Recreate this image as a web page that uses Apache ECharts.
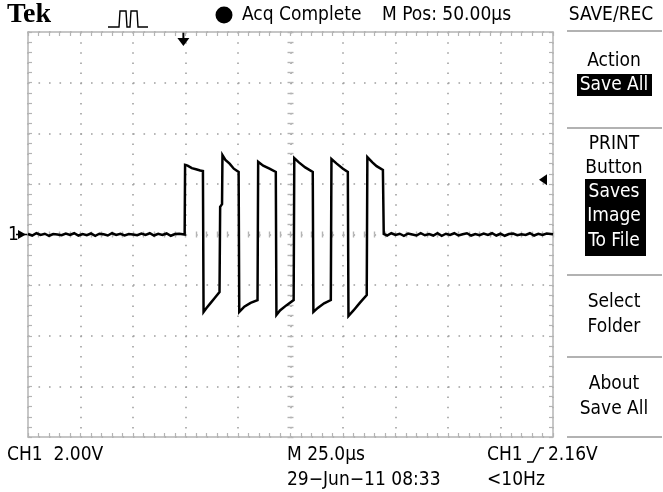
<!DOCTYPE html>
<html><head><meta charset="utf-8">
<script src="https://cdn.jsdelivr.net/npm/echarts@6/dist/echarts.min.js"></script>
<style>html,body{margin:0;padding:0;background:#fff}#c{width:663px;height:492px}</style>
</head><body><div id="c"></div>
<script>
// ---- data (time in µs, voltage in V) ----
const timeRange = [0, 250];      // 10 div x 25.0 µs
const voltRange = [-8, 8];       // 8 div x 2.00 V
const triggerTime = 74;          // trigger position marker (µs)
const triggerLevel = 2.16;       // V
const traceTime = [0,2,4,6,8,10,12,14,16,18,20,22,24,26,28,30,32,34,36,38,40,42,44,46,48,50,52,54,56,58,60,62,64,66,68,70,72,74.6,
  74.8,76,78,80,82,83.3,83.6,85,87,89,91.2,91.5,92.4,92.6,94,96,98,100.3,100.6,103,106,109.3,
  109.6,112,115,118,118.3,120,123,126.5,126.8,129,132,135.6,135.9,138,141,144.2,144.5,147,150,152.3,
  152.6,155,158,161.3,161.6,164,166,169.0,169.4,171,173,175,177,179,181,183,185,187,189,191,193,195,197,199,201,203,205,207,209,
  211,213,215,217,219,221,223,225,227,229,231,233,235,237,239,241,243,245,247,250];
const traceVolt = [0.02,-0.04,0.05,-0.02,0.03,-0.05,0.02,0.0,-0.03,0.04,-0.02,0.05,-0.04,0.02,-0.03,0.04,-0.05,0.03,0.01,-0.04,0.05,-0.02,0.03,-0.04,0.02,0.0,-0.03,0.04,-0.02,0.05,-0.04,0.03,-0.02,0.04,-0.05,0.02,0.03,0.0,
  2.75,2.72,2.62,2.58,2.53,2.51,-3.06,-2.9,-2.7,-2.5,-2.27,1.09,1.2,3.14,2.95,2.8,2.6,2.47,-3.06,-2.85,-2.7,-2.59,
  2.87,2.72,2.6,2.47,-3.18,-3.0,-2.8,-2.59,3.02,2.85,2.65,2.47,-3.06,-2.9,-2.72,-2.59,2.98,2.8,2.6,2.47,
  -3.22,-3.0,-2.7,-2.39,3.06,2.85,2.7,2.55,0.02,-0.04,0.05,-0.02,0.03,-0.05,0.04,0.0,-0.04,0.05,-0.03,0.02,-0.04,0.05,
  -0.05,0.03,-0.02,0.05,-0.04,0.01,0.05,-0.04,0.02,-0.03,0.04,-0.02,0.05,-0.04,0.03,-0.05,0.02,0.04,-0.03,0.01,-0.02,0.05,-0.04,0.03,
  -0.02,0.04,0.01];
const headerTexts = ['Tek', 'Acq Complete', 'M Pos: 50.00\u00b5s', 'SAVE/REC'];
const footerTexts = ['CH1  2.00V', 'M 25.0\u00b5s', 'CH1', '2.16V', '29\u2212Jun\u221211 08:33', '<10Hz'];
const menuPlain = ['Action', 'PRINT', 'Button', 'Select', 'Folder', 'About', 'Save All'];
const menuInverted = ['Save All', 'Saves', 'Image', 'To File'];

const chart = echarts.init(document.getElementById('c'), null, {renderer: 'canvas'});
const GRAY = '#b4b4b4';
const FONT = '"Liberation Sans Narrow", "DejaVu Sans Condensed", "Liberation Sans", sans-serif';
const FS = '19px ';

function xAx(extra) {
  return Object.assign({
    type: 'value', min: timeRange[0], max: timeRange[1], interval: 25,
    axisLabel: {show: false},
    axisLine: {show: true, onZero: false, lineStyle: {color: GRAY, width: 1.5}},
    axisTick: {show: true, inside: true, length: 4, lineStyle: {color: GRAY, width: 1.2}},
    minorTick: {show: true, splitNumber: 5, length: 4, lineStyle: {color: GRAY, width: 1.2}},
    splitLine: {show: false}
  }, extra);
}
function yAx(extra) {
  return Object.assign({
    type: 'value', min: voltRange[0], max: voltRange[1], interval: 2,
    axisLabel: {show: false},
    axisLine: {show: true, onZero: false, lineStyle: {color: GRAY, width: 1.5}},
    axisTick: {show: true, inside: true, length: 4, lineStyle: {color: GRAY, width: 1.2}},
    minorTick: {show: true, splitNumber: 5, length: 4, lineStyle: {color: GRAY, width: 1.2}},
    splitLine: {show: false}
  }, extra);
}
const hide = {show: true, onZero: false, lineStyle: {color: 'rgba(0,0,0,0)'}};
const cTick = (inside) => ({show: true, inside: inside, length: 3, lineStyle: {color: GRAY, width: 1.4}});
const cMinor = {show: true, splitNumber: 5, length: 3, lineStyle: {color: GRAY, width: 1.4}};

const option = {
  animation: false,
  grid: {left: 28, top: 32, width: 525, height: 405, containLabel: false},
  xAxis: [
    xAx({position: 'bottom', splitLine: {show: true, lineStyle: {color: '#a0a0a0', width: 1.6, type: [1.6, 8.525], dashOffset: 0}}}),
    xAx({position: 'top'}),
    xAx({position: 'bottom', offset: -202.5, axisLine: hide, axisTick: cTick(true), minorTick: cMinor}),
    xAx({position: 'bottom', offset: -202.5, axisLine: hide, axisTick: cTick(false), minorTick: cMinor})
  ],
  yAxis: [
    yAx({position: 'left', splitLine: {show: true, lineStyle: {color: '#a0a0a0', width: 1.6, type: [1.6, 8.9], dashOffset: 0}}}),
    yAx({position: 'right'}),
    yAx({position: 'left', offset: -262.5, axisLine: hide, axisTick: cTick(true), minorTick: cMinor}),
    yAx({position: 'left', offset: -262.5, axisLine: hide, axisTick: cTick(false), minorTick: cMinor})
  ],
  series: [{
    type: 'line', xAxisIndex: 0, yAxisIndex: 0, showSymbol: false, silent: true,
    lineStyle: {color: '#000', width: 2.5, join: 'miter'}, z: 10,
    data: traceTime.map((t, i) => [t, traceVolt[i]])
  }]
};
chart.setOption(option);

// ---- annotations (markers derived from data via the axes) ----
const pTrig = chart.convertToPixel({xAxisIndex: 0, yAxisIndex: 0}, [triggerTime, voltRange[1]]);
const pLevel = chart.convertToPixel({xAxisIndex: 0, yAxisIndex: 0}, [timeRange[1], triggerLevel]);
const pGnd = chart.convertToPixel({xAxisIndex: 0, yAxisIndex: 0}, [timeRange[0], 0]);

const txt = (s, x, y, o) => Object.assign({type: 'text', x: x, y: y, style: Object.assign({text: s, fill: '#000', font: FS + FONT, align: 'left', verticalAlign: 'middle'}, o || {})});
const els = [];
// header
els.push(txt(headerTexts[0], 7, 15, {font: 'bold 28px "Liberation Serif", serif'}));
els.push({type: 'polyline', shape: {points: [[108,27],[119,27],[120,11],[126,11],[127,27],[130,27],[131,11],[137,11],[138,27],[148,27]]}, style: {stroke: '#000', fill: null, lineWidth: 1.4}});
els.push({type: 'circle', shape: {cx: 224, cy: 15, r: 8.5}, style: {fill: '#000'}});
els.push(txt(headerTexts[1], 242, 15));
els.push(txt(headerTexts[2], 382, 15));
els.push(txt(headerTexts[3], 611, 15, {align: 'center'}));
// right menu separators
[31, 128, 275, 357, 437].forEach(y => els.push({type: 'line', shape: {x1: 567, y1: y, x2: 662, y2: y}, style: {stroke: '#999', lineWidth: 1.5}}));
// menu plain
const plainY = [61, 144, 168, 302, 327, 384, 409];
menuPlain.forEach((s, i) => els.push(txt(s, 614, plainY[i], {align: 'center'})));
// inverted boxes
els.push({type: 'rect', shape: {x: 577, y: 74, width: 75, height: 22}, style: {fill: '#000'}});
els.push({type: 'rect', shape: {x: 585, y: 179, width: 61, height: 77}, style: {fill: '#000'}});
const invY = [85, 192, 216, 241];
menuInverted.forEach((s, i) => els.push(txt(s, 614, invY[i], {align: 'center', fill: '#fff'})));
// footer
els.push(txt(footerTexts[0], 7, 455));
els.push(txt(footerTexts[1], 287, 455));
els.push(txt(footerTexts[2], 487, 455));
els.push({type: 'polyline', shape: {points: [[527,462],[533,462],[540,448],[544,448]]}, style: {stroke: '#000', fill: null, lineWidth: 1.5}});
els.push(txt(footerTexts[3], 548, 455));
els.push(txt(footerTexts[4], 287, 480));
els.push(txt(footerTexts[5], 487, 480));
// trigger position marker (top)
els.push({type: 'line', shape: {x1: pTrig[0], y1: pTrig[1], x2: pTrig[0], y2: pTrig[1] + 8}, style: {stroke: '#000', lineWidth: 2}});
els.push({type: 'polygon', shape: {points: [[pTrig[0] - 6, pTrig[1] + 6], [pTrig[0] + 6, pTrig[1] + 6], [pTrig[0], pTrig[1] + 14]]}, style: {fill: '#000'}});
// trigger level marker (right)
els.push({type: 'polygon', shape: {points: [[pLevel[0] - 14, pLevel[1]], [pLevel[0] - 6, pLevel[1] - 5.5], [pLevel[0] - 6, pLevel[1] + 5.5]]}, style: {fill: '#000'}});
// ground marker (left)
els.push(txt('1', pGnd[0] - 20, pGnd[1] + 1));
els.push({type: 'polygon', shape: {points: [[pGnd[0] - 10, pGnd[1] - 4.5], [pGnd[0] - 2, pGnd[1]], [pGnd[0] - 10, pGnd[1] + 4.5]]}, style: {fill: '#000'}});
els.push({type: 'line', shape: {x1: pGnd[0] - 12, y1: pGnd[1], x2: pGnd[0], y2: pGnd[1]}, style: {stroke: '#000', lineWidth: 1.5}});
chart.setOption({graphic: {elements: els}});
</script></body></html>
